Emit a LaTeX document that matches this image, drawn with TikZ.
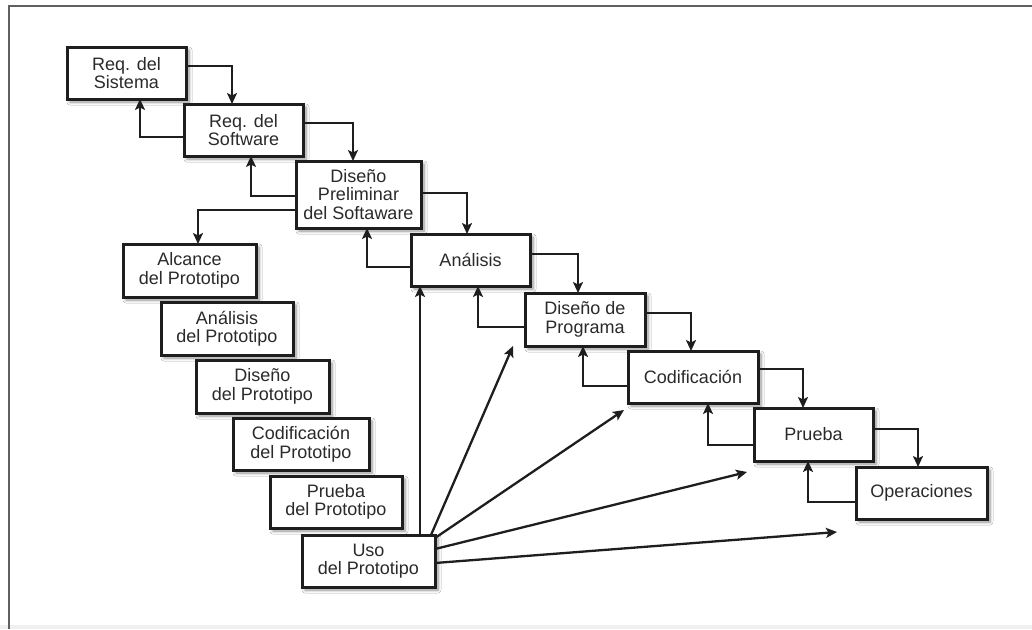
\documentclass[tikz,border=0pt]{standalone}
\usepackage{fontspec}
\setmainfont{Liberation Sans}
\usetikzlibrary{arrows.meta,shadows.blur}
\definecolor{txt}{HTML}{2A2A2A}
\definecolor{ln}{HTML}{1E1E1E}
\definecolor{frame}{HTML}{606060}
\tikzset{
  box/.style={draw=ln, line width=3pt, fill=white, text=txt, align=center,
    inner sep=0pt, outer sep=0pt,
    font=\fontsize{18}{18.5}\selectfont,
    blur shadow={shadow xshift=3pt, shadow yshift=-3pt, shadow blur steps=6, shadow blur radius=3pt, shadow opacity=45}},
  arr/.style={draw=ln, line width=2.3pt, -{Stealth[length=11pt,width=10pt,inset=2.5pt]}}
}
\begin{document}
\begin{tikzpicture}[x=1pt,y=-1pt]
\useasboundingbox (0,0) rectangle (1032,629);
\fill[white] (0,0) rectangle (1032,629);
\fill[black!6] (0,625) rectangle (1032,629);
\draw[frame, line width=2pt] (9,629) -- (9,6) -- (1032,6);

% main waterfall
\node[box, minimum width=119pt, minimum height=52pt] (sis) at (126.5,73) {Req. del\\Sistema};
\node[box, minimum width=119pt, minimum height=52pt] (sw)  at (243.5,130) {Req. del\\Software};
\node[box, minimum width=125pt, minimum height=67pt] (dps) at (358.5,194.5) {Diseño\\Preliminar\\del Softaware};
\node[box, minimum width=119pt, minimum height=52pt] (ana) at (470.5,260) {Análisis};
\node[box, minimum width=120pt, minimum height=53pt] (dpr) at (585,319.5) {Diseño de\\Programa};
\node[box, minimum width=130pt, minimum height=52pt] (cod) at (693,377) {Codificación};
\node[box, minimum width=119pt, minimum height=53pt] (pru) at (813.5,434.5) {Prueba};
\node[box, minimum width=131pt, minimum height=52pt] (ope) at (921.5,493) {Operaciones};

% prototype column
\node[box, minimum width=133pt, minimum height=53pt] (alc) at (189.5,270.5) {Alcance\\del Prototipo};
\node[box, minimum width=132pt, minimum height=53pt] (anp) at (227,328.5) {Análisis\\del Prototipo};
\node[box, minimum width=133pt, minimum height=53pt] (dip) at (262.5,386.5) {Diseño\\del Prototipo};
\node[box, minimum width=136pt, minimum height=52pt] (cop) at (301,444) {Codificación\\del Prototipo};
\node[box, minimum width=132pt, minimum height=52pt] (prp) at (336,502) {Prueba\\del Prototipo};
\node[box, minimum width=133pt, minimum height=52pt] (uso) at (368.5,561) {Uso\\del Prototipo};

% forward arrows
\draw[arr] ([yshift=7pt]sis.east) -| ([xshift=-11.5pt]sw.north);
\draw[arr] ([yshift=7pt]sw.east) -| ([xshift=-5.5pt]dps.north);
\draw[arr] ([yshift=1.5pt]dps.east) -| ([xshift=-3.5pt]ana.north);
\draw[arr] ([yshift=6pt]ana.east) -| ([xshift=-7pt]dpr.north);
\draw[arr] ([yshift=6.5pt]dpr.east) -| ([xshift=-2pt]cod.north);
\draw[arr] ([yshift=8pt]cod.east) -| ([xshift=-10.5pt]pru.north);
\draw[arr] ([yshift=5.5pt]pru.east) -| ([xshift=-3.5pt]ope.north);

% back arrows
\draw[arr] ([yshift=-7pt]sw.west) -| ([xshift=13.5pt]sis.south);
\draw[arr] ([yshift=-1.5pt]dps.west) -| ([xshift=7.5pt]sw.south);
\draw[arr] ([yshift=-7pt]ana.west) -| ([xshift=8.5pt]dps.south);
\draw[arr] ([yshift=-7.5pt]dpr.west) -| ([xshift=7.5pt]ana.south);
\draw[arr] ([yshift=-9pt]cod.west) -| ([xshift=-2pt]dpr.south);
\draw[arr] ([yshift=-10.5pt]pru.west) -| ([xshift=15pt]cod.south);
\draw[arr] ([yshift=-9pt]ope.west) -| ([xshift=-5.5pt]pru.south);

% to prototype
\draw[arr] ([yshift=-15.5pt]dps.west) -| ([xshift=8.5pt]alc.north);

% uso arrows
\coordinate (t2) at (513,346);
\coordinate (t3) at (624,410);
\coordinate (t4) at (747,472);
\coordinate (t5) at (837,532);
\draw[arr] ([xshift=51.5pt]uso.north) -- ([xshift=51.5pt]uso.north |- ana.south);
\draw[arr] ([xshift=-4pt]uso.north east) -- (t2);
\draw[arr] ([yshift=-3pt]uso.north east) -- (t3);
\draw[arr] ([yshift=-14pt]uso.north east) -- (t4);
\draw[arr] ([yshift=-28pt]uso.north east) -- (t5);
\end{tikzpicture}
\end{document}
